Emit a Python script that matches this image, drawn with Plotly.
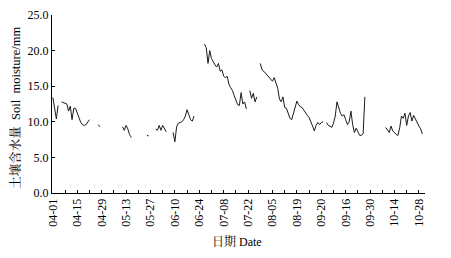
import plotly.graph_objects as go

# Daily soil moisture (mm), day 0 = 04-01 ... day 213 = 10-31; None = missing
N = None
moisture = [
    13.4, 11.5, 10.4, 12.3, N,                                   # 0-4
    12.8, 12.7, 12.6, 12.5, 11.5, 12.2, 10.3, 11.9, 11.9, 11.2,  # 5-14
    10.3, 9.9, 9.6, 9.5, 9.6, 9.9, 10.3,                         # 15-21
    N, N, N, N, 9.6, 9.3,                                        # 22-27
    N, N, N, N, N, N, N, N, N, N, N, N,                          # 28-39
    9.3, 8.8, 9.5, 9.0, 8.2, 7.8,                                # 40-45
    N, N, N, N, N, N, N, N,                                      # 46-53
    8.1, 8.0,                                                    # 54-55
    N, N, N,                                                     # 56-58
    9.0, 8.8, 9.5, 8.8, 9.5, 9.0, 8.6,                           # 59-65
    N, N, N,                                                     # 66-68
    8.5, 7.2, 9.3, 9.8, 9.9, 10.0, 10.3, 10.8, 11.7, 11.0,       # 69-78
    10.3, 10.1, 10.8,                                            # 79-81
    N, N, N, N, N,                                               # 82-86
    20.9, 20.4, 18.2, 20.0, 18.9, 18.4, 18.0, 17.7, 18.2, 17.1,  # 87-96
    17.3, 16.4, 16.2, 16.4, 15.3, 14.8, 14.4, 13.7, 13.0, 12.4,  # 97-106
    12.3, 14.1, 12.5, 12.8, 11.8,                                # 107-111
    N,                                                           # 112
    14.4, 13.3, 14.0, 12.8, 13.5,                                # 113-117
    N,                                                           # 118
    18.2, 17.3, 17.1, 16.8, 16.5, 16.2, 15.9, 15.7, 16.2, 15.3,  # 119-128
    14.7, 13.2, 12.8, 13.5, 12.0, 11.9, 11.2, 10.5, 10.3, 11.3,  # 129-138
    12.3, 12.9, 12.4, 12.1, 12.0, 11.6, 11.2, 10.9, 10.6, 10.1,  # 139-148
    9.4, 8.7, 9.5, 9.9, 9.6, 9.9, 10.0,                          # 149-155
    N,                                                           # 156
    9.9, 9.5, 9.4, 9.2, 9.8, 10.8, 12.8, 12.0, 11.2, 10.8,       # 157-166
    11.0, 10.3, 9.6, 10.0, 11.5, 9.6, 8.5, 9.1, 8.6, 8.1,        # 167-176
    8.1, 8.3, 13.5,                                              # 177-179
    N, N, N, N, N, N, N, N, N, N, N,                             # 180-190
    9.2, 8.8, 8.5, 9.4, 8.7, 8.5, 8.2, 8.1, 9.2, 10.8,           # 191-200
    10.5, 11.2, 9.5, 10.8, 11.3, 10.1, 10.9, 10.4, 9.8, 9.4,     # 201-210
    9.0, 8.3,                                                    # 211-212
    N,                                                           # 213
]
days = list(range(len(moisture)))

# Tick labels every 14 days (as printed on the original chart)
tick_labels = ["04-01", "04-15", "04-29", "05-13", "05-27", "06-10", "06-24",
               "07-08", "07-22", "08-05", "08-19", "09-20", "09-16", "09-30",
               "10-14", "10-28"]
tick_vals = list(range(0, 214, 7))
tick_text = []
for v in tick_vals:
    tick_text.append(tick_labels[v // 14] if v % 14 == 0 else "")

FONT = "Times New Roman, Liberation Serif, Noto Serif CJK SC, Noto Sans CJK SC, serif"

fig = go.Figure()
fig.add_trace(go.Scatter(
    x=days, y=moisture, mode="lines",
    line=dict(color="#1a1a1a", width=1),
    connectgaps=False, showlegend=False,
))

fig.update_layout(
    width=451, height=258,
    margin=dict(l=52, r=26, t=8, b=65),
    paper_bgcolor="white", plot_bgcolor="white",
    font=dict(family=FONT, size=12, color="black"),
)
fig.update_xaxes(
    range=[-0.5, 213.5], tickmode="array", tickvals=tick_vals, ticktext=tick_text,
    tickangle=-90, ticks="inside", ticklen=3, tickcolor="black",
    showline=True, linecolor="black", linewidth=1, showgrid=False, zeroline=False,
    tickfont=dict(family=FONT, size=12),
)
fig.update_yaxes(
    range=[0, 25], dtick=5, tickformat=".1f",
    ticks="inside", ticklen=3, tickcolor="black",
    showline=True, linecolor="black", linewidth=1, showgrid=False, zeroline=False,
    tickfont=dict(family=FONT, size=12),
)
fig.add_annotation(
    text="土壤含水量  Soil  moisture/mm", xref="paper", yref="paper",
    x=-0.099, y=0.48, textangle=-90, showarrow=False,
    xanchor="center", yanchor="middle", font=dict(family=FONT, size=12.5),
)
fig.add_annotation(
    text="日期 Date", xref="paper", yref="paper",
    x=0.497, y=-0.27, showarrow=False,
    xanchor="center", yanchor="middle", font=dict(family=FONT, size=12),
)

fig.write_html("out.html", config={"displayModeBar": False},
               post_script="document.body.style.margin='0';")
